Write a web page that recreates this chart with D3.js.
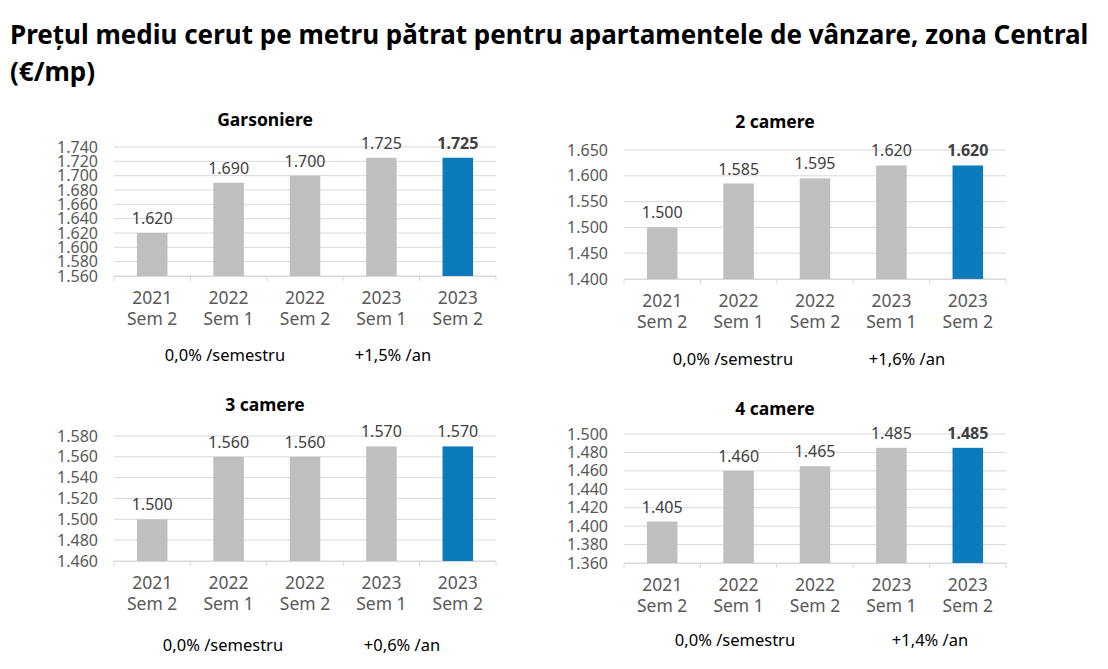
<!DOCTYPE html>
<html>
<head>
<meta charset="utf-8">
<script src="https://cdn.jsdelivr.net/npm/d3@7"></script>
<style>
  body { margin: 0; background: #fff; }
  svg { display: block; font-family: 'Noto Sans', sans-serif; }
</style>
</head>
<body>
<svg id="chart"></svg>
<script>
// Data
const categories = [['2021', 'Sem 2'], ['2022', 'Sem 1'], ['2022', 'Sem 2'], ['2023', 'Sem 1'], ['2023', 'Sem 2']];
const panelTitles = ['Garsoniere', '2 camere', '3 camere', '4 camere'];
const garsoniere = [1620, 1690, 1700, 1725, 1725];
const camere2 = [1500, 1585, 1595, 1620, 1620];
const camere3 = [1500, 1560, 1560, 1570, 1570];
const camere4 = [1405, 1460, 1465, 1485, 1485];
const yDomains = [[1560, 1740, 20], [1400, 1650, 50], [1460, 1580, 20], [1360, 1500, 20]];
const semNotes = ['0,0% /semestru', '0,0% /semestru', '0,0% /semestru', '0,0% /semestru'];
const yearNotes = ['+1,5% /an', '+1,6% /an', '+0,6% /an', '+1,4% /an'];
const lastBold = [true, true, false, true];

const seriesList = [garsoniere, camere2, camere3, camere4];

// Layout for each panel
const layout = [
  { x0: 114, x1: 496, top: 147, base: 276, titleY: 126, labY: 304, noteY: 361, semX: 225, yearX: 393 },
  { x0: 624, x1: 1006, top: 150, base: 279, titleY: 128, labY: 307, noteY: 365, semX: 733, yearX: 907 },
  { x0: 114, x1: 496, top: 436, base: 561, titleY: 411, labY: 589, noteY: 651, semX: 223, yearX: 402 },
  { x0: 624, x1: 1006, top: 434, base: 563, titleY: 415, labY: 591, noteY: 646, semX: 735, yearX: 930 }
];

const width = 1108, height = 669;
const svg = d3.select('#chart').attr('width', width).attr('height', height);

const fmt = d3.formatLocale({ decimal: ',', thousands: '.', grouping: [3], currency: ['', ''] }).format(',d');

// Main title
const title = svg.append('text')
  .attr('x', 10)
  .attr('font-weight', 700)
  .attr('font-size', 26)
  .attr('fill', '#000');
title.append('tspan').attr('x', 10).attr('y', 44)
  .text('Prețul mediu cerut pe metru pătrat pentru apartamentele de vânzare, zona Central');
title.append('tspan').attr('x', 10).attr('y', 81).text('(€/mp)');

seriesList.forEach(function (values, i) {
  const L = layout[i];
  const [yMin, yMax, step] = yDomains[i];
  const g = svg.append('g');

  const x = d3.scaleBand()
    .domain(d3.range(categories.length))
    .range([L.x0, L.x1])
    .paddingInner(0.6)
    .paddingOuter(0.3);

  const y = d3.scaleLinear().domain([yMin, yMax]).range([L.base, L.top]);
  const ticks = d3.range(yMin, yMax + step / 2, step);

  // Gridlines
  g.append('g')
    .selectAll('line')
    .data(ticks)
    .enter()
    .append('line')
    .attr('x1', L.x0)
    .attr('x2', L.x1)
    .attr('y1', d => y(d))
    .attr('y2', d => y(d))
    .attr('stroke', '#d9d9d9')
    .attr('stroke-width', 1);

  // Y axis labels
  const yAxis = d3.axisLeft(y).tickValues(ticks).tickFormat(fmt).tickSize(0).tickPadding(16);
  const ya = g.append('g').attr('transform', 'translate(' + L.x0 + ',0)').call(yAxis);
  ya.select('.domain').remove();
  ya.selectAll('text')
    .attr('font-family', "'Noto Sans', sans-serif")
    .attr('font-size', 16)
    .attr('fill', '#595959');

  // Bars
  g.selectAll('.bar')
    .data(values)
    .enter()
    .append('rect')
    .attr('x', (d, j) => x(j))
    .attr('y', d => y(d))
    .attr('width', x.bandwidth())
    .attr('height', d => L.base - y(d))
    .attr('fill', (d, j) => (j === values.length - 1 ? '#0b7bbd' : '#bfbfbf'));

  // Value labels
  g.selectAll('.val')
    .data(values)
    .enter()
    .append('text')
    .attr('x', (d, j) => x(j) + x.bandwidth() / 2)
    .attr('y', d => y(d) - 9)
    .attr('text-anchor', 'middle')
    .attr('font-size', 16)
    .attr('font-weight', (d, j) => (lastBold[i] && j === values.length - 1 ? 700 : 400))
    .attr('fill', '#404040')
    .text(d => fmt(d));

  // X axis line and ticks
  g.append('line')
    .attr('x1', L.x0).attr('x2', L.x1)
    .attr('y1', L.base + 0.5).attr('y2', L.base + 0.5)
    .attr('stroke', '#d9d9d9');
  g.selectAll('.xt')
    .data(d3.range(categories.length + 1))
    .enter()
    .append('line')
    .attr('x1', k => L.x0 + k * (L.x1 - L.x0) / categories.length)
    .attr('x2', k => L.x0 + k * (L.x1 - L.x0) / categories.length)
    .attr('y1', L.base)
    .attr('y2', L.base + 5)
    .attr('stroke', '#d9d9d9');

  // Category labels
  const cl = g.selectAll('.cat')
    .data(categories)
    .enter()
    .append('text')
    .attr('text-anchor', 'middle')
    .attr('font-size', 17.5)
    .attr('fill', '#595959');
  cl.append('tspan')
    .attr('x', (d, j) => x(j) + x.bandwidth() / 2)
    .attr('y', L.labY)
    .text(d => d[0]);
  cl.append('tspan')
    .attr('x', (d, j) => x(j) + x.bandwidth() / 2)
    .attr('y', L.labY + 21)
    .text(d => d[1]);

  // Panel title
  g.append('text')
    .attr('x', (L.x0 + L.x1) / 2 - 40)
    .attr('y', L.titleY)
    .attr('text-anchor', 'middle')
    .attr('font-size', 17.5)
    .attr('font-weight', 700)
    .attr('fill', '#000')
    .text(panelTitles[i]);

  // Notes
  g.append('text')
    .attr('x', L.semX)
    .attr('y', L.noteY)
    .attr('text-anchor', 'middle')
    .attr('font-size', 16.5)
    .attr('fill', '#000')
    .text(semNotes[i]);
  g.append('text')
    .attr('x', L.yearX)
    .attr('y', L.noteY)
    .attr('text-anchor', 'middle')
    .attr('font-size', 16.5)
    .attr('fill', '#000')
    .text(yearNotes[i]);
});
</script>
</body>
</html>
